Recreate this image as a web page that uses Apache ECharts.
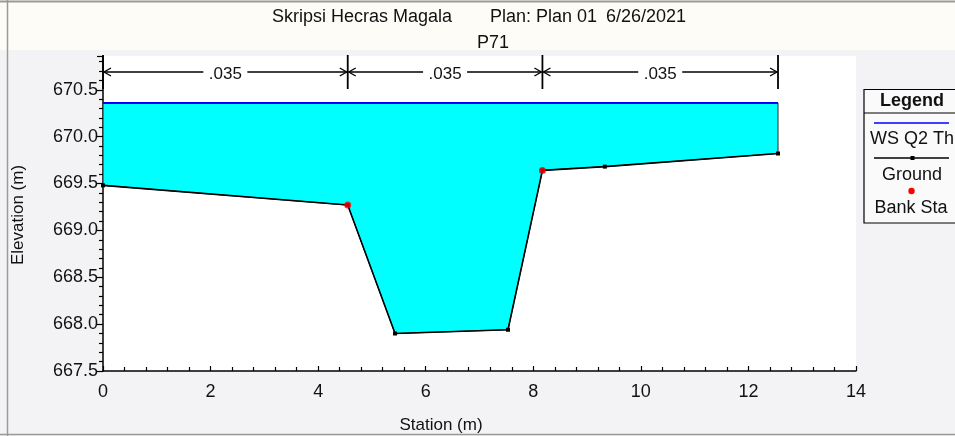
<!DOCTYPE html>
<html><head><meta charset="utf-8">
<script src="https://cdn.jsdelivr.net/npm/echarts@6/dist/echarts.min.js"></script>
<style>html,body{margin:0;padding:0;background:#f3f3f5}#c{width:955px;height:436px}</style>
</head><body><div id="c"></div>
<script>
// ---- data ----
const groundStation = [0, 4.55, 5.43, 7.53, 8.17, 9.33, 12.55];
const groundElev    = [669.48, 669.27, 667.90, 667.94, 669.64, 669.68, 669.82];
const bankStation   = [4.55, 8.17];
const bankElev      = [669.27, 669.64];
const wsStation     = [0, 12.55];
const wsElev        = [670.36, 670.36];
const nBreaks       = [0, 4.55, 8.17, 12.55];
const nValues       = ['.035', '.035', '.035'];
const titleMain     = 'Skripsi Hecras Magala';
const titlePlan     = 'Plan: Plan 01';
const titleDate     = '6/26/2021';
const titleXS       = 'P71';
const legendNames   = ['WS Q2 Th', 'Ground', 'Bank Sta'];

const FONT = '"Liberation Sans", Arial, sans-serif';
const Y_MIN = 667.5, Y_MAX = 670.86;

const chart = echarts.init(document.getElementById('c'), null, {renderer: 'canvas'});

const ground = groundStation.map((s, i) => [s, groundElev[i]]);
const banks = bankStation.map((s, i) => [s, bankElev[i]]);
const ws = wsStation.map((s, i) => [s, wsElev[i]]);

function txt(text, x, y, opts) {
  return Object.assign({type: 'text', x: x, y: y, silent: true,
    style: Object.assign({text: text, font: '18px ' + FONT, fill: '#111', textVerticalAlign: 'middle'}, opts || {})});
}

const option = {
  backgroundColor: '#f3f3f5',
  animation: false,
  grid: {left: 103, right: 99, top: 56, bottom: 65, show: true, backgroundColor: '#ffffff', borderWidth: 0,
         containLabel: false, outerBoundsMode: 'none'},
  xAxis: {
    type: 'value', min: 0, max: 14, interval: 2,
    axisLine: {show: true, onZero: false, lineStyle: {color: '#000', width: 1.5}},
    axisTick: {show: true, inside: true, length: 5, lineStyle: {color: '#000', width: 1.2}},
    minorTick: {show: true, splitNumber: 5, length: 4, lineStyle: {color: '#000', width: 1.2}},
    splitLine: {show: false}, minorSplitLine: {show: false},
    axisLabel: {fontFamily: FONT, fontSize: 18, color: '#111', margin: 12}
  },
  yAxis: {
    type: 'value', min: Y_MIN, max: Y_MAX, interval: 0.5,
    axisLine: {show: true, onZero: false, lineStyle: {color: '#000', width: 1.5}},
    axisTick: {show: true, inside: false, length: 6, lineStyle: {color: '#000', width: 1.2}},
    minorTick: {show: true, splitNumber: 5, length: 4, lineStyle: {color: '#000', width: 1.2}},
    splitLine: {show: false}, minorSplitLine: {show: false},
    axisLabel: {fontFamily: FONT, fontSize: 18, color: '#111', margin: 5, showMaxLabel: false,
                padding: [4, 0, 0, 0], formatter: v => v.toFixed(1)}
  },
  series: [
    { // water fill between ground and water surface
      type: 'custom', z: 1, clip: true, silent: true,
      data: [0],
      renderItem: function (params, api) {
        const pts = [api.coord([wsStation[0], wsElev[0]])];
        for (let i = 0; i < groundStation.length; i++) pts.push(api.coord([groundStation[i], groundElev[i]]));
        pts.push(api.coord([wsStation[wsStation.length - 1], wsElev[wsElev.length - 1]]));
        return {type: 'polygon', shape: {points: pts},
                style: {fill: '#00ffff', stroke: '#222', lineWidth: 1}};
      }
    },
    { // n-value dimension lines
      type: 'custom', z: 5, clip: false, silent: true,
      data: [0],
      renderItem: function (params, api) {
        const cs = params.coordSys;
        const top = cs.y - 1, yA = cs.y + 16, bot = cs.y + 33;
        const children = [];
        const ls = {stroke: '#000', lineWidth: 1.3, fill: null};
        for (let i = 0; i < nBreaks.length; i++) {
          const x = api.coord([nBreaks[i], Y_MAX])[0];
          children.push({type: 'line', shape: {x1: x, y1: top, x2: x, y2: bot}, style: {stroke: '#000', lineWidth: 1.8}});
        }
        for (let i = 0; i < nValues.length; i++) {
          const x1 = api.coord([nBreaks[i], Y_MAX])[0];
          const x2 = api.coord([nBreaks[i + 1], Y_MAX])[0];
          const mid = (x1 + x2) / 2;
          const half = 22;
          children.push({type: 'line', shape: {x1: x1 + 1, y1: yA, x2: mid - half, y2: yA}, style: ls});
          children.push({type: 'line', shape: {x1: mid + half, y1: yA, x2: x2 - 1, y2: yA}, style: ls});
          children.push({type: 'polyline', shape: {points: [[x1 + 8, yA - 4], [x1 + 1, yA], [x1 + 8, yA + 4]]}, style: ls});
          children.push({type: 'polyline', shape: {points: [[x2 - 8, yA - 4], [x2 - 1, yA], [x2 - 8, yA + 4]]}, style: ls});
          children.push({type: 'text', x: mid, y: yA + 2,
            style: {text: nValues[i], font: '17px ' + FONT, fill: '#111', textAlign: 'center', textVerticalAlign: 'middle'}});
        }
        return {type: 'group', children: children};
      }
    },
    {
      name: legendNames[0], type: 'line', z: 3, data: ws, showSymbol: false,
      lineStyle: {color: '#0000ff', width: 2}, itemStyle: {color: '#0000ff'}
    },
    {
      name: legendNames[1], type: 'line', z: 4, data: ground, symbol: 'rect', symbolSize: 4,
      showAllSymbol: true,
      lineStyle: {color: '#000', width: 1.6}, itemStyle: {color: '#000'}
    },
    {
      name: legendNames[2], type: 'scatter', z: 6, data: banks, symbol: 'circle', symbolSize: 7,
      itemStyle: {color: '#ff0000'}
    }
  ],
  graphic: [
    {type: 'rect', shape: {x: 0, y: 0, width: 955, height: 50}, style: {fill: '#fdfcf6'}, z: -1, silent: true},
    {type: 'line', shape: {x1: 0, y1: 1.5, x2: 955, y2: 1.5}, style: {stroke: '#9a9a9a', lineWidth: 2}},
    {type: 'line', shape: {x1: 7.5, y1: 0, x2: 7.5, y2: 436}, style: {stroke: '#9a9a9a', lineWidth: 1.5}},
    {type: 'line', shape: {x1: 0, y1: 434.5, x2: 955, y2: 434.5}, style: {stroke: '#9a9a9a', lineWidth: 1.5}},
    txt(titleMain, 272, 17),
    txt(titlePlan, 490, 17),
    txt(titleDate, 606, 17),
    txt(titleXS, 493, 43, {textAlign: 'center'}),
    Object.assign(txt('Elevation (m)', 18, 215, {textAlign: 'center', font: '17px ' + FONT}), {rotation: Math.PI / 2}),
    txt('Station (m)', 441, 425, {textAlign: 'center', font: '17px ' + FONT}),
    // legend box
    {type: 'rect', shape: {x: 864, y: 89.5, width: 100, height: 133.5}, style: {fill: '#fafafa', stroke: '#000', lineWidth: 1.2}},
    {type: 'line', shape: {x1: 864, y1: 113, x2: 955, y2: 113}, style: {stroke: '#000', lineWidth: 1.2}},
    txt('Legend', 912, 101, {textAlign: 'center', font: 'bold 18px ' + FONT}),
    {type: 'line', shape: {x1: 874, y1: 123, x2: 949, y2: 123}, style: {stroke: '#0000ff', lineWidth: 1.6}},
    txt(legendNames[0], 870, 139, {font: '18px ' + FONT}),
    {type: 'line', shape: {x1: 874, y1: 158, x2: 949, y2: 158}, style: {stroke: '#000', lineWidth: 1.4}},
    {type: 'rect', shape: {x: 910.5, y: 156, width: 4, height: 4}, style: {fill: '#000'}},
    txt(legendNames[1], 912, 175, {textAlign: 'center', font: '18px ' + FONT}),
    {type: 'circle', shape: {cx: 911.5, cy: 191, r: 3.2}, style: {fill: '#ff0000'}},
    txt(legendNames[2], 911, 208, {textAlign: 'center', font: '18px ' + FONT})
  ]
};
chart.setOption(option);
</script>
</body></html>
